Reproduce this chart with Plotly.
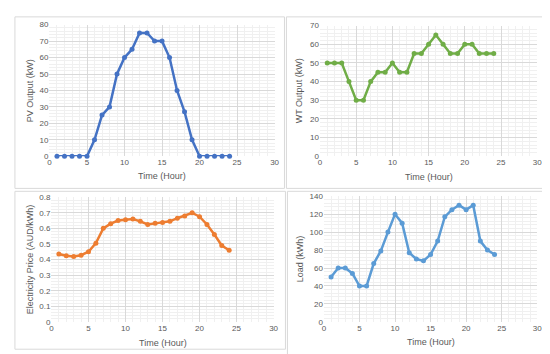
import plotly.graph_objects as go

hours = list(range(1, 25))
pv_output = [0, 0, 0, 0, 0, 10, 25, 30, 50, 60, 65, 75, 75, 70, 70, 60, 40, 27, 10, 0, 0, 0, 0, 0]
wt_output = [50, 50, 50, 40, 30, 30, 40, 45, 45, 50, 45, 45, 55, 55, 60, 65, 60, 55, 55, 60, 60, 55, 55, 55]
price = [0.435, 0.425, 0.42, 0.428, 0.45, 0.505, 0.60, 0.63, 0.65, 0.655, 0.66, 0.645, 0.625, 0.632,
         0.638, 0.645, 0.665, 0.68, 0.70, 0.675, 0.625, 0.56, 0.49, 0.46]
load = [50, 60, 60, 54, 40, 40, 65, 79, 100, 120, 110, 77, 70, 68, 75, 90, 117, 125, 130, 125, 130, 90, 80, 75]

W, H = 550, 354
FONT = "Liberation Sans"
TXT = "#595959"

panels = [
    dict(y=pv_output, color="#4472C4", title="PV Output (kW)", yr=[0, 80], dt=10, mdt=2, fmt=None,
         box=(40, 268, 13, 148), xt=168, yt=21, border=(5, 278, 5, 181)),
    dict(y=wt_output, color="#70AD47", title="WT Output (kW)", yr=[0, 70], dt=10, mdt=2, fmt=None,
         box=(314, 534, 14, 148), xt=169, yt=293, border=(280, 545, 5, 181)),
    dict(y=price, color="#ED7D31", title="Electricity Price (AUD/kWh)", yr=[0, 0.8], dt=0.1, mdt=0.02, fmt=None,
         box=(42, 267, 190, 318), xt=340, yt=20, border=(5, 279, 184, 346)),
    dict(y=load, color="#5B9BD5", title="Load (kWh)", yr=[0, 140], dt=20, mdt=4, fmt=None,
         box=(318, 534, 189, 318), xt=339, yt=294, border=(281, 545, 184, 356)),
]

fig = go.Figure()
layout = dict(width=W, height=H, margin=dict(l=0, r=0, t=0, b=0), showlegend=False,
              paper_bgcolor="white", plot_bgcolor="white",
              font=dict(family=FONT, size=8, color=TXT))
annotations = []
shapes = []
for i, p in enumerate(panels, start=1):
    xn = "xaxis" if i == 1 else f"xaxis{i}"
    yn = "yaxis" if i == 1 else f"yaxis{i}"
    xr = "x" if i == 1 else f"x{i}"
    yr = "y" if i == 1 else f"y{i}"
    x0, x1, y0, y1 = p["box"]
    fig.add_trace(go.Scatter(x=hours, y=p["y"], mode="lines+markers", xaxis=xr, yaxis=yr,
                             line=dict(color=p["color"], width=2.5),
                             marker=dict(color=p["color"], size=5), cliponaxis=False))
    layout[xn] = dict(domain=[x0 / W, x1 / W], anchor=yr, range=[0, 30], dtick=5, tick0=0,
                      showgrid=True, gridcolor="#D9D9D9", gridwidth=1,
                      minor=dict(dtick=1, showgrid=True, gridcolor="#F0F0F0", gridwidth=1),
                      zeroline=False, showline=False, ticks="", fixedrange=True,
                      tickfont=dict(size=8, color=TXT))
    layout[yn] = dict(domain=[1 - y1 / H, 1 - y0 / H], anchor=xr, range=p["yr"], dtick=p["dt"], tick0=0,
                      showgrid=True, gridcolor="#D9D9D9", gridwidth=1,
                      minor=dict(dtick=p["mdt"], showgrid=True, gridcolor="#F0F0F0", gridwidth=1),
                      zeroline=False, showline=False, ticks="", fixedrange=True,
                      tickfont=dict(size=8, color=TXT))
    annotations.append(dict(text="Time (Hour)", xref="paper", yref="paper",
                            x=(x0 + x1) / 2 / W, y=1 - p["xt"] / H, showarrow=False,
                            xanchor="center", yanchor="middle", font=dict(size=9, color=TXT)))
    annotations.append(dict(text=p["title"], xref="paper", yref="paper", textangle=-90,
                            x=p["yt"] / W, y=1 - (y0 + y1) / 2 / H, showarrow=False,
                            xanchor="center", yanchor="middle", font=dict(size=9, color=TXT)))
    bx0, bx1, by0, by1 = p["border"]
    shapes.append(dict(type="rect", xref="paper", yref="paper", x0=bx0 / W, x1=bx1 / W,
                       y0=1 - by1 / H, y1=1 - by0 / H, line=dict(color="#D9D9D9", width=1),
                       fillcolor="rgba(0,0,0,0)", layer="below"))

layout["annotations"] = annotations
layout["shapes"] = shapes
fig.update_layout(**layout)
fig.write_html("out.html")
